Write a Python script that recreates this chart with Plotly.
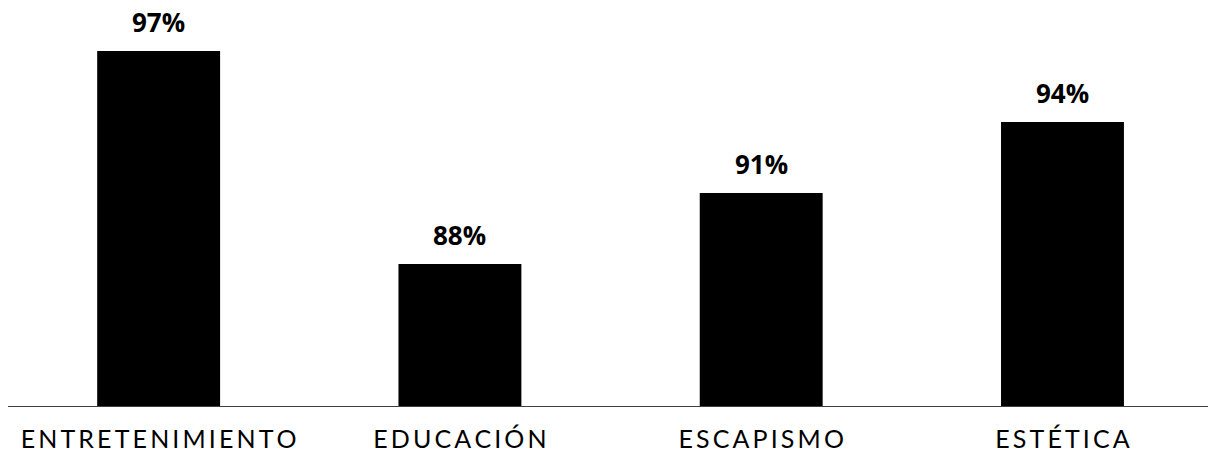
import plotly.graph_objects as go

# Categories and percentages
categories = ["ENTRETENIMIENTO", "EDUCACIÓN", "ESCAPISMO", "ESTÉTICA"]
values = [97, 88, 91, 94]
value_labels = ["97%", "88%", "91%", "94%"]

SPACER = "\u2009"  # thin space used for tracking in the category labels
tick_text = [SPACER.join(list(c)) for c in categories]

fig = go.Figure()
fig.add_trace(go.Bar(
    x=categories,
    y=values,
    marker=dict(color="#000000", line=dict(width=0)),
    width=0.408,
    hoverinfo="skip",
))

for cat, val, lab in zip(categories, values, value_labels):
    fig.add_annotation(
        x=cat, y=val, text=f"<b>{lab}</b>",
        showarrow=False, yanchor="bottom", yshift=9,
        font=dict(family="Open Sans", size=26, color="#000000"),
    )

fig.update_layout(
    width=1208, height=456,
    margin=dict(l=8, r=0, t=0, b=50),
    paper_bgcolor="white", plot_bgcolor="white",
    showlegend=False,
    xaxis=dict(
        type="category",
        range=[-0.5, 3.483],
        tickvals=categories,
        ticktext=tick_text,
        showline=True, linecolor="#404040", linewidth=1,
        showgrid=False, ticks="",
        tickfont=dict(family="Lato", size=25, color="#000000"),
        ticklabelstandoff=11,
    ),
    yaxis=dict(
        range=[82, 99.155],
        visible=False,
        showgrid=False,
    ),
)

fig.write_html("out.html")
